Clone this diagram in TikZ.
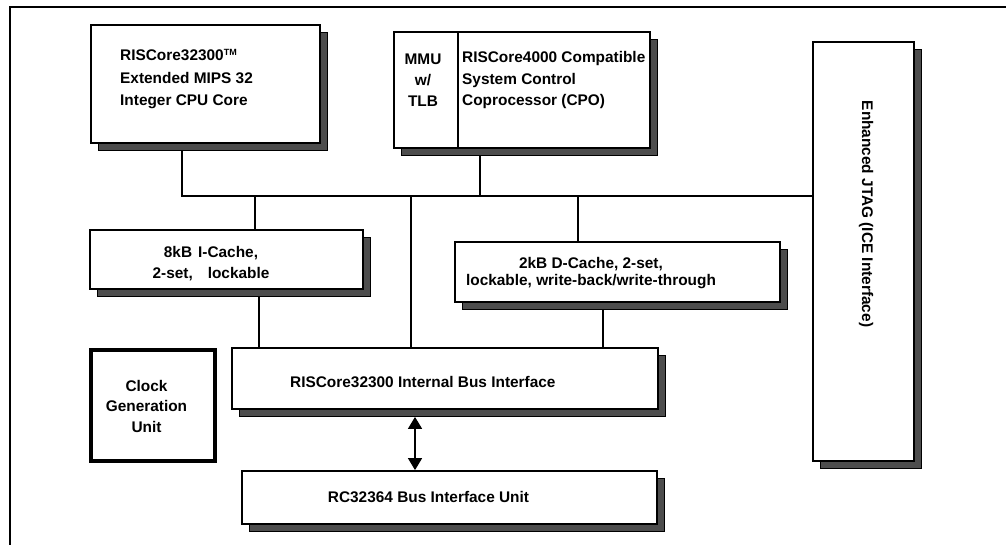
\documentclass[tikz,border=0pt]{standalone}
\usepackage{fontspec}
\setmainfont{Liberation Sans}
\usetikzlibrary{shadows,arrows.meta,backgrounds}
\definecolor{shadowgray}{RGB}{77,77,77}

\begin{document}
\begin{tikzpicture}[x=1pt, y=-1pt,
		block/.style={draw, line width=1.8pt, fill=white, inner sep=0pt,
			drop shadow={shadow xshift=7pt, shadow yshift=-7pt, fill=shadowgray, draw=black, line width=0.8pt, opacity=1}},
		txt/.style={inner sep=0pt, font=\bfseries\fontsize{15.4}{#1}\selectfont},
		txt/.default=21.5,
		wire/.style={line width=1.5pt}]
			%%%%% START %%%%%
			\useasboundingbox (0,0) rectangle (1006,545);
			
			\draw[line width=2pt] (10,545) -- (10,7) -- (1006,7);
			
			% boxes
			\node[block, minimum width=229, minimum height=118] (cpu) at (205.5,84) {};
			\node[block, minimum width=256, minimum height=116] (mmu) at (522,90) {};
			\node[block, minimum width=101, minimum height=419] (jtag) at (863.5,251.5) {};
			\node[block, minimum width=273, minimum height=59] (icache) at (226.5,259.5) {};
			\node[block, minimum width=325, minimum height=60] (dcache) at (617.5,272) {};
			\node[block, minimum width=426, minimum height=61] (ibus) at (445,378.5) {};
			\node[draw, line width=4pt, minimum width=124, minimum height=111] (clock) at (153,405.5) {};
			\node[block, minimum width=415, minimum height=53] (biu) at (449.5,497.5) {};
			
			\coordinate (mmu-div) at (458,0);
			\draw[line width=1.5pt] (mmu-div |- mmu.north) -- (mmu-div |- mmu.south);
			
			% texts (base = last line)
			\node[txt=22.5, anchor=base west, align=left] (cpu-t) at (120,106) {RISCore32300\textsuperscript{\fontsize{9}{9}\selectfont TM}\\Extended MIPS 32\\Integer CPU Core};
			\node[txt=21, anchor=base, align=center] (mmu-l) at (423,107) {MMU\\w/\\TLB};
			\node[txt=21.5, anchor=base west, align=left] (mmu-r) at (462,106) {RISCore4000 Compatible\\System Control\\Coprocessor (CPO)};
			\node[txt, rotate=-90] (jtag-t) at (866,214) {Enhanced JTAG (ICE Interface)};
			\node[txt=21, anchor=base, align=center] (icache-t) at (211,279) {8kB\hspace{6pt}I-Cache,\\2-set,\hspace{15pt}lockable};
			\node[txt=17, anchor=base, align=center] (dcache-t) at (591,285) {2kB D-Cache, 2-set,\\lockable, write-back/write-through};
			\node[txt, anchor=base west] (ibus-t) at (290,387) {RISCore32300 Internal Bus Interface};
			\node[txt=20.5, anchor=base, align=center] (clock-t) at (146.5,432) {Clock\\Generation\\Unit};
			\node[txt, anchor=base] (biu-t) at (428.5,502) {RC32364 Bus Interface Unit};
			
			% bus lines
			\coordinate (bus-w) at (182,196);
			\coordinate (bus-m) at (411,196);
			\coordinate (mmu-x) at (480,196);
			\coordinate (ic-x) at (255,196);
			\coordinate (ic-y) at (259,196);
			\coordinate (dc-x) at (578,196);
			\coordinate (dc-y) at (603,196);
			\coordinate (arr) at (415,0);
			\begin{scope}[on background layer]
				\draw[wire] (bus-w |- cpu.south) -- (bus-w) -- (jtag.west |- bus-w);
				\draw[wire] (mmu-x |- mmu.south) -- (mmu-x);
				\draw[wire] (ic-x) -- (ic-x |- icache.north);
				\draw[wire] (dc-x) -- (dc-x |- dcache.north);
				\draw[wire] (bus-m) -- (bus-m |- ibus.north);
				\draw[wire] (ic-y |- icache.south) -- (ic-y |- ibus.north);
				\draw[wire] (dc-y |- dcache.south) -- (dc-y |- ibus.north);
			\end{scope}
			\draw[wire, {Triangle[width=14pt,length=12pt]}-{Triangle[width=14pt,length=12pt]}] ([yshift=-7pt]ibus.south -| arr) -- (biu.north -| arr);
			%%%%% END %%%%%
\end{tikzpicture}
\end{document}
